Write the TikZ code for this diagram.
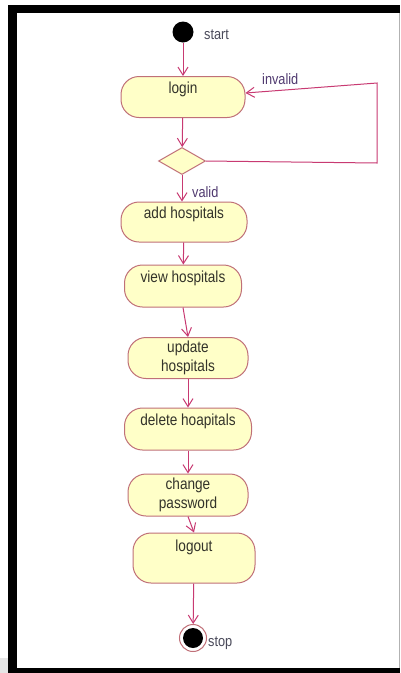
\documentclass[tikz,border=0pt]{standalone}
\usepackage{fontspec}
\setmainfont{Liberation Sans}[FakeStretch=0.85]
\usetikzlibrary{arrows.meta,shapes.geometric}
\definecolor{actfill}{HTML}{FFFFC8}
\definecolor{actdraw}{HTML}{C07078}
\definecolor{flow}{HTML}{C83A72}
\definecolor{acttext}{HTML}{33332A}
\definecolor{guard}{HTML}{503A70}
\definecolor{endtext}{HTML}{4A4A5A}
\tikzset{
  act/.style={draw=actdraw, line width=1pt, fill=actfill, rounded corners=18pt,
    text=acttext, font=\fontsize{16}{19}\selectfont, align=center, inner sep=0pt},
  oneline/.style={text height=10pt, text depth=18pt},
  flowarrow/.style={draw=flow, line width=1pt, -{Straight Barb[length=8pt,width=10pt]}},
  lbl/.style={font=\fontsize{15}{15}\selectfont, inner sep=0pt, anchor=west},
}
\begin{document}
\begin{tikzpicture}[x=1pt,y=-1pt]
\useasboundingbox (0,0) rectangle (400,673);
\fill[white] (0,0) rectangle (400,673);
% frame
\fill[black] (8,5) rectangle (17,673);
\fill[black] (8,5) rectangle (400,13);
\fill[black] (8,668) rectangle (400,673);
\fill[black!10] (0,658) rectangle (8,673);
\draw[black!30, line width=0.8pt] (399.5,13) -- (399.5,668);

% nodes
\node[circle, fill=black, minimum size=21pt, inner sep=0pt] (start) at (183,32) {};
\node[lbl, text=endtext] (startlbl) at (204,35) {start};

\node[act, oneline, minimum width=124pt, minimum height=41pt] (login) at (183,97) {login};
\node[diamond, draw=actdraw, fill=actfill, line width=1pt, minimum width=47pt, minimum height=27pt, inner sep=0pt] (dec) at (182,161) {};

\node[act, oneline, minimum width=126pt, minimum height=40pt] (add) at (184,222) {add hospitals};
\node[act, oneline, minimum width=117pt, minimum height=42pt] (view) at (183,286) {view hospitals};
\node[act, minimum width=120pt, minimum height=41pt] (update) at (188,358) {update\\hospitals};
\node[act, oneline, minimum width=127pt, minimum height=42pt] (delete) at (188,429) {delete hoapitals};
\node[act, minimum width=120pt, minimum height=42pt] (change) at (188,495) {change\\password};
\node[act, text height=10pt, text depth=24pt, minimum width=122pt, minimum height=50pt] (logout) at (194,558) {logout};

\node[circle, draw=actdraw, line width=1pt, fill=white, minimum size=27pt, inner sep=0pt] (stop) at (193,638) {};
\node[circle, fill=black, minimum size=20pt, inner sep=0pt] (stopdot) at (193,638) {};
\node[lbl, text=endtext] (stoplbl) at (208,643) {stop};

\coordinate (c1) at (377,163);
\coordinate (c2) at (377,83);

% connectors
\draw[flowarrow] (start) -- (login);
\draw[flowarrow] (login) -- (dec);
\draw[flowarrow] (dec.south) -- (add.north -| dec.south);
\draw[flowarrow] (add) -- (view);
\draw[flowarrow] (view.south) -- (update.north);
\draw[flowarrow] (update) -- (delete);
\draw[flowarrow] (delete) -- (change);
\draw[flowarrow] (change.south) -- (logout.north);
\draw[flowarrow] (logout) -- (stop);
\draw[flowarrow] (dec.east) -- (c1) -- (c2) -- ([yshift=4pt]login.east);

\node[lbl, text=guard] (invalid) at (262,79) {invalid};
\node[lbl, text=guard] (valid) at (192,192) {valid};
\end{tikzpicture}
\end{document}
